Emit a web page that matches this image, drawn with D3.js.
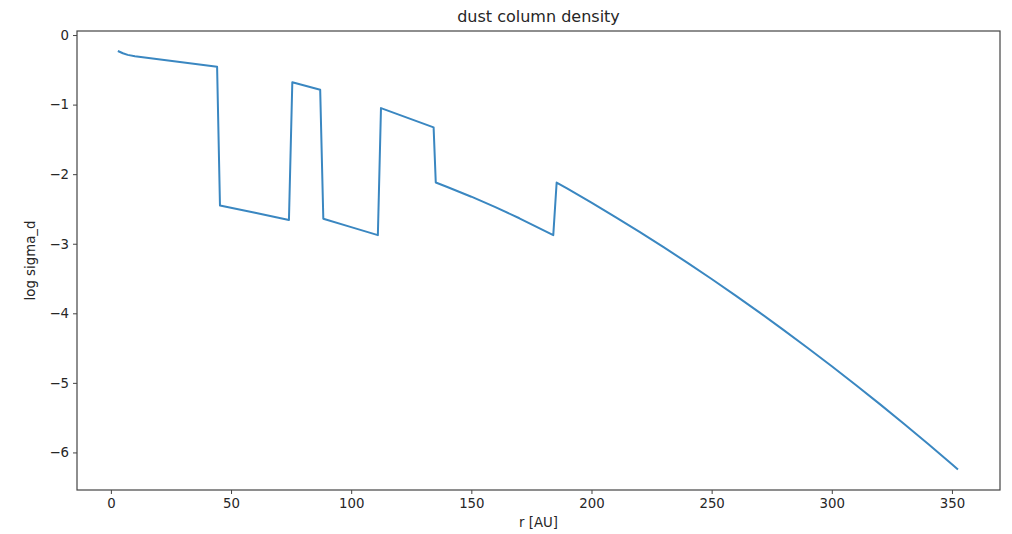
<!DOCTYPE html>
<html>
<head>
<meta charset="utf-8">
<script src="https://cdn.jsdelivr.net/npm/d3@7"></script>
<style>
  html, body { margin: 0; padding: 0; background: #fff; }
  svg { display: block; font-family: "DejaVu Sans", sans-serif; }
</style>
</head>
<body>
<svg id="chart" width="1012" height="534"></svg>
<script>
// ---- data ----
const radius = [2.9, 5, 7, 10, 44.2, 45.4, 60, 74.1, 75.5, 87.1, 88.4, 100, 111.1, 112.4, 134.3, 135.2, 140, 150, 160, 170, 184.1, 185.5, 190, 200, 210, 220, 230, 240, 250, 260, 270, 280, 290, 300, 310, 320, 330, 340, 350, 352.5];
const logSigma = [-0.23, -0.262, -0.285, -0.305, -0.455, -2.45, -2.555, -2.66, -0.68, -0.786, -2.64, -2.761, -2.876, -1.05, -1.327, -2.12, -2.184, -2.324, -2.474, -2.634, -2.876, -2.12, -2.208, -2.409, -2.616, -2.830, -3.049, -3.275, -3.507, -3.746, -3.990, -4.241, -4.498, -4.761, -5.030, -5.306, -5.588, -5.876, -6.170, -6.245];
const xTicks = [0, 50, 100, 150, 200, 250, 300, 350];
const yTicks = [0, -1, -2, -3, -4, -5, -6];
const titleText = "dust column density";
const xLabelText = "r [AU]";
const yLabelText = "log sigma_d";

// ---- layout ----
const mLeft = 77, mRight = 1000, mTop = 31, mBottom = 490;
const svg = d3.select("#chart");

const x = d3.scaleLinear().domain([-14.1, 370.0]).range([mLeft, mRight]);
const y = d3.scaleLinear().domain([0.058, -6.54]).range([mTop, mBottom]);

const textColor = "#262626";

// line
const pts = radius.map((r, i) => [r, logSigma[i]]);
svg.append("path")
  .datum(pts)
  .attr("fill", "none")
  .attr("stroke", "#3a87c1")
  .attr("stroke-width", 2)
  .attr("stroke-linejoin", "round")
  .attr("d", d3.line().x(d => x(d[0])).y(d => y(d[1])));

// axes
const xAxis = svg.append("g")
  .attr("transform", `translate(0,${mBottom})`)
  .call(d3.axisBottom(x).tickValues(xTicks).tickSize(4).tickPadding(5).tickFormat(d3.format("d")));
const yAxis = svg.append("g")
  .attr("transform", `translate(${mLeft},0)`)
  .call(d3.axisLeft(y).tickValues(yTicks).tickSize(4).tickPadding(4)
    .tickFormat(d => d < 0 ? "\u2212" + Math.abs(d) : String(d)));

[xAxis, yAxis].forEach(g => {
  g.select(".domain").remove();
  g.selectAll(".tick line").attr("stroke", "#444").attr("stroke-width", 1);
  g.selectAll(".tick text").attr("fill", textColor).style("font-size", "13.3px")
    .style("font-family", "DejaVu Sans, sans-serif");
});

// frame
svg.append("rect")
  .attr("x", mLeft).attr("y", mTop)
  .attr("width", mRight - mLeft).attr("height", mBottom - mTop)
  .attr("fill", "none").attr("stroke", "#444").attr("stroke-width", 1.2);

// title
svg.append("text")
  .attr("x", (mLeft + mRight) / 2).attr("y", 22)
  .attr("text-anchor", "middle")
  .attr("fill", textColor)
  .style("font-size", "16px")
  .text(titleText);

// x label
svg.append("text")
  .attr("x", (mLeft + mRight) / 2).attr("y", 527)
  .attr("text-anchor", "middle")
  .attr("fill", textColor)
  .style("font-size", "13.3px")
  .text(xLabelText);

// y label
svg.append("text")
  .attr("transform", `translate(35,${(mTop + mBottom) / 2}) rotate(-90)`)
  .attr("text-anchor", "middle")
  .attr("fill", textColor)
  .style("font-size", "13.3px")
  .text(yLabelText);
</script>
</body>
</html>
